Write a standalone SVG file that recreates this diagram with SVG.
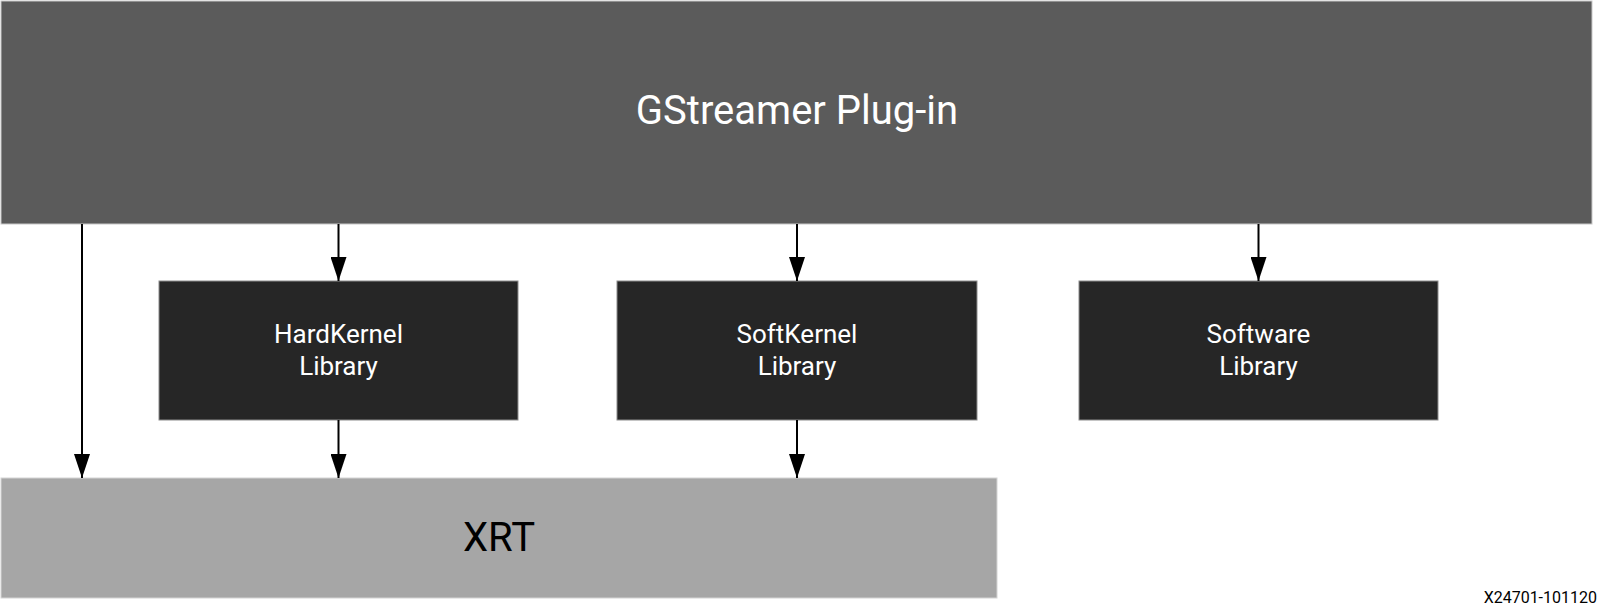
<svg xmlns="http://www.w3.org/2000/svg" width="1606" height="616" viewBox="0 0 1606 616">
<defs>
<style>
text{font-family:Roboto,"Liberation Sans",sans-serif;text-anchor:middle}
.lib rect{fill:#262626;stroke:#8c8c8c;stroke-width:1}
.lib text{fill:#fff;font-size:26px}
.conn line{stroke:#000;stroke-width:2}
</style>
<marker id="ah" markerUnits="userSpaceOnUse" markerWidth="24" markerHeight="16" viewBox="0 0 24 16" refX="24" refY="8" orient="auto">
<path d="M0,0 L24,8 L0,16 Z" fill="#000"/>
</marker>
</defs>
<rect width="1606" height="616" fill="#fff"/>
<g id="gstreamer">
<rect x="1" y="1" width="1591" height="223" fill="#5b5b5b" stroke="#c8c8c8" stroke-width="1"/>
<text x="797" y="124" font-size="40" fill="#fff">GStreamer Plug-in</text>
</g>
<g id="hardkernel" class="lib">
<rect x="159" y="281" width="359" height="139"/>
<text x="338.5" y="343">HardKernel</text>
<text x="338.5" y="375">Library</text>
</g>
<g id="softkernel" class="lib">
<rect x="617" y="281" width="360" height="139"/>
<text x="797" y="343">SoftKernel</text>
<text x="797" y="375">Library</text>
</g>
<g id="software" class="lib">
<rect x="1079" y="281" width="359" height="139"/>
<text x="1258.5" y="343">Software</text>
<text x="1258.5" y="375">Library</text>
</g>
<g id="xrt">
<rect x="1" y="478" width="996" height="120" fill="#a6a6a6" stroke="#d4d4d4" stroke-width="1"/>
<text x="499" y="551" font-size="40" fill="#000">XRT</text>
</g>
<g id="connectors" class="conn">
<line x1="82" y1="224" x2="82" y2="478" marker-end="url(#ah)"/>
<line x1="338.5" y1="224" x2="338.5" y2="281" marker-end="url(#ah)"/>
<line x1="338.5" y1="420" x2="338.5" y2="478" marker-end="url(#ah)"/>
<line x1="797" y1="224" x2="797" y2="281" marker-end="url(#ah)"/>
<line x1="797" y1="420" x2="797" y2="478" marker-end="url(#ah)"/>
<line x1="1258.5" y1="224" x2="1258.5" y2="281" marker-end="url(#ah)"/>
</g>
<text id="figid" x="1597" y="603" font-size="16" fill="#000" style="text-anchor:end">X24701-101120</text>
</svg>
